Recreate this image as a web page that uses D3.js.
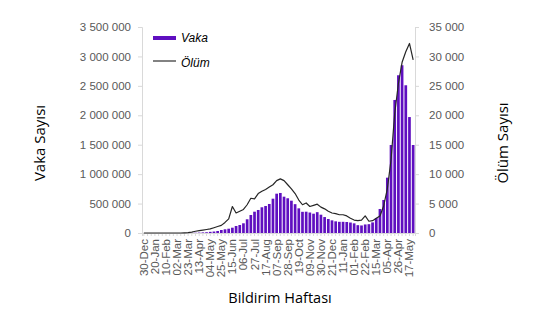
<!DOCTYPE html>
<html><head><meta charset="utf-8">
<script src="https://cdn.jsdelivr.net/npm/d3@7"></script>
<style>body{margin:0;background:#fff}svg{display:block}</style>
</head><body><svg id="c" width="547" height="326"></svg>
<script>
const weeks = ["30-Dec","06-Jan","13-Jan","20-Jan","27-Jan","03-Feb","10-Feb","17-Feb","24-Feb","02-Mar","09-Mar","16-Mar","23-Mar","30-Mar","06-Apr","13-Apr","20-Apr","27-Apr","04-May","11-May","18-May","25-May","01-Jun","08-Jun","15-Jun","22-Jun","29-Jun","06-Jul","13-Jul","20-Jul","27-Jul","03-Aug","10-Aug","17-Aug","24-Aug","31-Aug","07-Sep","14-Sep","21-Sep","28-Sep","05-Oct","12-Oct","19-Oct","26-Oct","02-Nov","09-Nov","16-Nov","23-Nov","30-Nov","07-Dec","14-Dec","21-Dec","28-Dec","04-Jan","11-Jan","18-Jan","25-Jan","01-Feb","08-Feb","15-Feb","22-Feb","01-Mar","08-Mar","15-Mar","22-Mar","29-Mar","05-Apr","12-Apr","19-Apr","26-Apr","03-May","10-May","17-May","24-May"];
const tickLabels = ["30-Dec","20-Jan","10-Feb","02-Mar","23-Mar","13-Apr","04-May","25-May","15-Jun","06-Jul","27-Jul","17-Aug","07-Sep","28-Sep","19-Oct","09-Nov","30-Nov","21-Dec","11-Jan","01-Feb","22-Feb","15-Mar","05-Apr","26-Apr","17-May"];
const vaka = [0,0,0,0,0,0,0,0,0,30,80,300,800,3000,5000,7000,10000,13000,20000,25000,34000,51000,63000,73000,90000,119000,136000,165000,233000,306000,362000,391000,437000,459000,493000,583000,668000,680000,617000,590000,549000,490000,419000,360000,362000,348000,328000,354000,311000,271000,238000,215000,198000,190000,190000,187000,178000,164000,133000,128000,145000,150000,180000,255000,408000,561000,940000,1495000,2260000,2680000,2850000,2510000,1970000,1495000];
const olum = [0,0,0,0,0,0,0,0,0,0,2,30,50,150,300,400,500,600,700,900,1100,1300,1800,2400,4500,3400,3700,4000,4800,5900,5800,6700,7100,7400,7800,8200,8900,9200,8900,8200,7500,6700,5600,4800,5100,4500,4700,4900,4400,4100,3700,3400,3300,3100,3100,2900,2500,2200,2100,2200,2900,2000,2100,2500,2900,4600,7500,12400,20300,25400,29000,30800,32200,29400];
const leftTicks = [0,500000,1000000,1500000,2000000,2500000,3000000,3500000];
const rightTicks = [0,5000,10000,15000,20000,25000,30000,35000];

const svg = d3.select("#c");
const L = 142, R = 415, T = 27, B = 233;
const x = d3.scaleBand().domain(weeks).range([L, R]).paddingInner(0.27).paddingOuter(0.135);
const yL = d3.scaleLinear().domain([0, 3500000]).range([B, T]);
const yR = d3.scaleLinear().domain([0, 35000]).range([B, T]);
const loc = d3.formatLocale({decimal: ",", thousands: " ", grouping: [3], currency: ["", ""]});
const fmt = loc.format(",d");
const gray = "#d9d9d9", tcol = "#595959";
const font = "Liberation Sans, Arial, sans-serif";

// left axis
const gl = svg.append("g").attr("transform", `translate(${L},0)`)
  .call(d3.axisLeft(yL).tickValues(leftTicks).tickFormat(fmt).tickSizeOuter(0).tickSize(4).tickPadding(7));
gl.select(".domain").attr("stroke", gray);
gl.selectAll(".tick line").attr("stroke", gray);
gl.selectAll("text").attr("fill", tcol).style("font-family", font).style("font-size", "11.5px");

// right axis
const gr = svg.append("g").attr("transform", `translate(${R},0)`)
  .call(d3.axisRight(yR).tickValues(rightTicks).tickFormat(fmt).tickSizeOuter(0).tickSize(4).tickPadding(10));
gr.select(".domain").attr("stroke", gray);
gr.selectAll(".tick line").attr("stroke", gray);
gr.selectAll("text").attr("fill", tcol).style("font-family", font).style("font-size", "11.5px");

// x axis
const gx = svg.append("g").attr("transform", `translate(0,${B})`)
  .call(d3.axisBottom(x).tickSizeOuter(0).tickSize(3).tickFormat(d => tickLabels.includes(d) ? d : ""));
gx.select(".domain").attr("stroke", gray);
gx.selectAll(".tick line").attr("stroke", gray);
gx.selectAll("text").attr("fill", tcol).style("font-family", font).style("font-size", "11.5px")
  .attr("transform", "rotate(-90)").attr("text-anchor", "end").attr("x", -6).attr("y", 0).attr("dy", "0.35em");

// bars
svg.append("g").selectAll("rect").data(weeks).join("rect")
  .attr("x", d => x(d)).attr("width", x.bandwidth())
  .attr("y", (d, i) => yL(vaka[i])).attr("height", (d, i) => B - yL(vaka[i]))
  .attr("fill", "#5f0fc0");

// line
const line = d3.line().x((d, i) => x(weeks[i]) + x.bandwidth() / 2).y(d => yR(d));
svg.append("path").datum(olum).attr("d", line).attr("fill", "none")
  .attr("stroke", "#262626").attr("stroke-width", 1.2).attr("stroke-linejoin", "round");

// legend
svg.append("rect").attr("x", 153).attr("y", 36).attr("width", 23).attr("height", 4).attr("fill", "#5f0fc0");
svg.append("line").attr("x1", 153).attr("x2", 176).attr("y1", 61).attr("y2", 61).attr("stroke", "#595959").attr("stroke-width", 1.5);
svg.append("text").attr("x", 181).attr("y", 42).text("Vaka").style("font-family", font).style("font-style", "italic").style("font-size", "12px").attr("fill", "#000");
svg.append("text").attr("x", 181).attr("y", 67).text("Ölüm").style("font-family", font).style("font-style", "italic").style("font-size", "12px").attr("fill", "#000");

// titles
const tfont = "Open Sans, sans-serif";
svg.append("text").attr("x", 280).attr("y", 303).attr("text-anchor", "middle").text("Bildirim Haftası")
  .style("font-family", tfont).style("font-size", "14.5px").attr("fill", "#000");
svg.append("text").attr("transform", "translate(45,143) rotate(-90)").attr("text-anchor", "middle").text("Vaka Sayısı")
  .style("font-family", tfont).style("font-size", "15px").attr("fill", "#000");
svg.append("text").attr("transform", "translate(508,143) rotate(-90)").attr("text-anchor", "middle").text("Ölüm Sayısı")
  .style("font-family", tfont).style("font-size", "15px").attr("fill", "#000");
</script></body></html>
